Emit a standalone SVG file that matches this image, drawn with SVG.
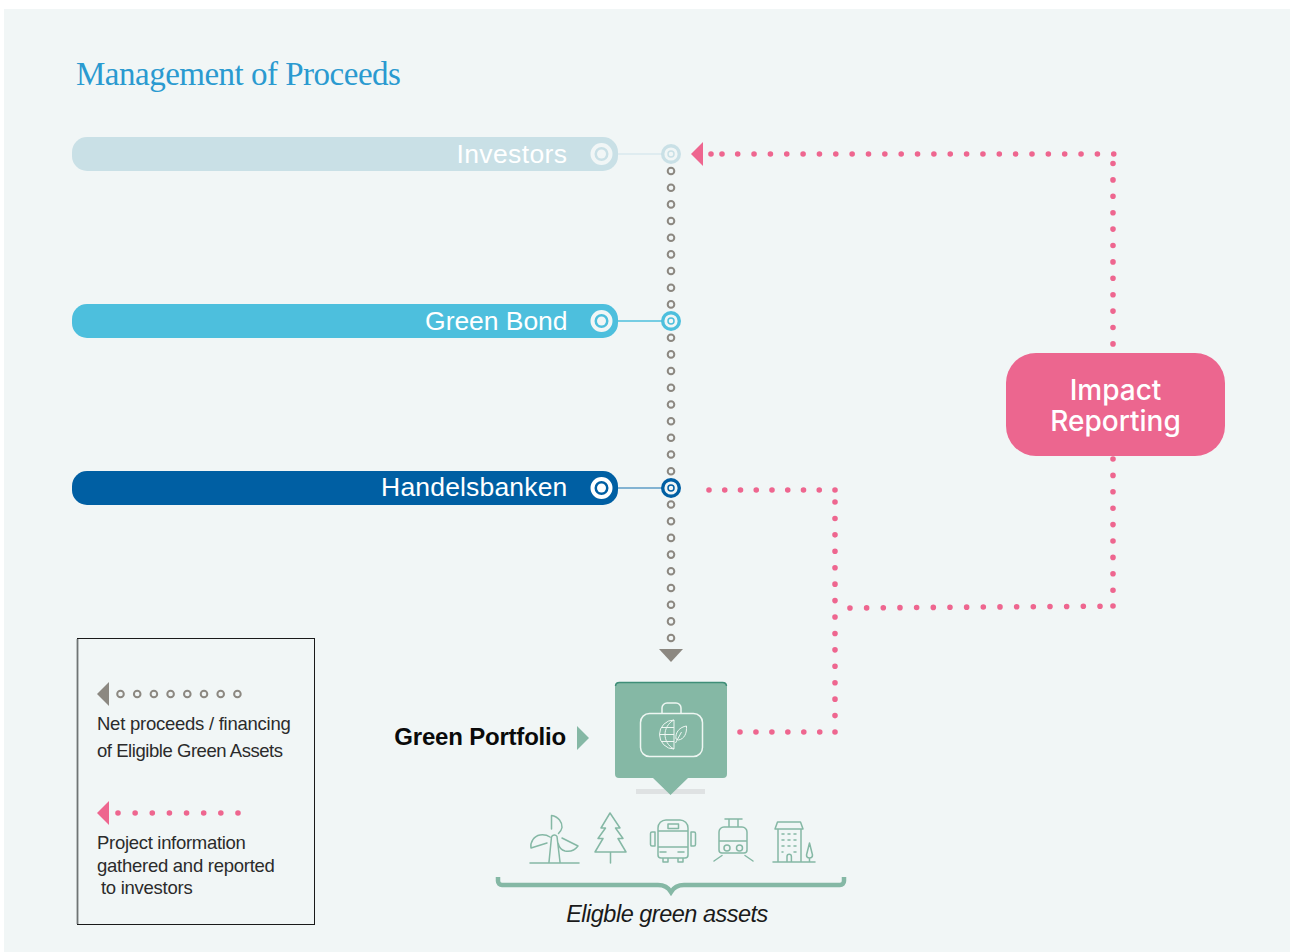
<svg xmlns="http://www.w3.org/2000/svg" width="1290" height="952" viewBox="0 0 1290 952">
<style>
text{font-family:"Liberation Sans",Arial,sans-serif}
.bar{font-size:26.5px;fill:#fff;text-anchor:end}
.leg{font-size:18.5px;fill:#2b2b2b}
.pink{fill:none;stroke:#ee668f;stroke-width:5.6;stroke-linecap:round}
.ring{fill:none;stroke:#8c8881;stroke-width:2}
.ic{fill:none;stroke:#85b8a5;stroke-width:1.500;stroke-linecap:round;stroke-linejoin:round}
.wh{fill:none;stroke:#eef6f2;stroke-width:1.500;stroke-linecap:round;stroke-linejoin:round}
.wh2{fill:none;stroke:#eef6f2;stroke-width:1}
</style>
<defs><circle id="r" r="3.300" class="ring"/></defs>
<rect width="1290" height="952" fill="#fff"/>
<rect x="4" y="9" width="1286" height="943" fill="#f1f6f6"/>
<text id="title" x="76" y="85" font-size="33" fill="#2a9ad0" style="font-family:'Liberation Serif',serif;letter-spacing:-.5px">Management of Proceeds</text>

<g id="connectors">
<g id="spine">
<use href="#r" x="671" y="171"/><use href="#r" x="671" y="187.700"/><use href="#r" x="671" y="204.400"/><use href="#r" x="671" y="221"/><use href="#r" x="671" y="237.700"/><use href="#r" x="671" y="254.400"/><use href="#r" x="671" y="271"/><use href="#r" x="671" y="287.700"/><use href="#r" x="671" y="304.400"/>
<use href="#r" x="671" y="337.800"/><use href="#r" x="671" y="354.400"/><use href="#r" x="671" y="371"/><use href="#r" x="671" y="387.800"/><use href="#r" x="671" y="404.500"/><use href="#r" x="671" y="421.200"/><use href="#r" x="671" y="437.800"/><use href="#r" x="671" y="454.500"/><use href="#r" x="671" y="471.200"/>
<use href="#r" x="671" y="504.500"/><use href="#r" x="671" y="521.200"/><use href="#r" x="671" y="537.900"/><use href="#r" x="671" y="554.600"/><use href="#r" x="671" y="571.300"/><use href="#r" x="671" y="588"/><use href="#r" x="671" y="604.700"/><use href="#r" x="671" y="621.400"/><use href="#r" x="671" y="638"/>
<polygon points="659,649 683,649 671,662" fill="#8c8881"/>
</g>
<g id="pink-lines">
<path class="pink" d="M711 154H722.100" stroke-dasharray="0 11"/>
<path class="pink" d="M737.700 154H1113.800" stroke-dasharray="0 16.350"/>
<polygon points="703,142 703,166 691,154" fill="#ee668f"/>
<path class="pink" d="M1113 163.500V344.100" stroke-dasharray="0 16.400"/>
<path class="pink" d="M1113 459V590.300" stroke-dasharray="0 16.400"/>
<path class="pink" d="M1113 606H1113.100" stroke-dasharray="0 16"/>
<path class="pink" d="M1100 606.200L849.900 608" stroke-dasharray="0 16.670"/>
<path class="pink" d="M709 490H835.100" stroke-dasharray="0 15.750"/>
<path class="pink" d="M835 502V732.100" stroke-dasharray="0 16.430"/>
<path class="pink" d="M740 732H820" stroke-dasharray="0 15.950"/>
</g>
<line x1="618" y1="154" x2="662" y2="154" stroke="#d9e9ee" stroke-width="1.500"/>
<line x1="618" y1="321" x2="662" y2="321" stroke="#4dbfdd" stroke-width="1.500"/>
<line x1="618" y1="488" x2="662" y2="488" stroke="#5e9cc6" stroke-width="1.500"/>
</g>

<g id="investors">
<rect x="72" y="137" width="546" height="34" rx="15" fill="#c9e0e6"/>
<text class="bar" x="567.500" y="163" letter-spacing=".4">Investors</text>
<circle cx="601.500" cy="154" r="9" fill="none" stroke="#f1f6f6" stroke-width="4"/>
<circle cx="601.500" cy="154" r="4.500" fill="#f1f6f6"/>
<circle cx="671" cy="154" r="10" fill="#c9e0e6"/><circle cx="671" cy="154" r="6.600" fill="#f1f6f6"/><circle cx="671" cy="154" r="3" fill="none" stroke="#c9e0e6" stroke-width="1.500"/>
</g>
<g id="green-bond">
<rect x="72" y="304" width="546" height="34" rx="15" fill="#4dbfdd"/>
<text class="bar" x="567.500" y="330" letter-spacing="-.05">Green Bond</text>
<circle cx="601.500" cy="321" r="9" fill="none" stroke="#f1f6f6" stroke-width="4"/>
<circle cx="601.500" cy="321" r="4.500" fill="#f1f6f6"/>
<circle cx="671" cy="321" r="10" fill="#4dbfdd"/><circle cx="671" cy="321" r="6.600" fill="#f1f6f6"/><circle cx="671" cy="321" r="3" fill="none" stroke="#4dbfdd" stroke-width="1.500"/>
</g>
<g id="handelsbanken">
<rect x="72" y="471" width="546" height="34" rx="15" fill="#005fa3"/>
<text class="bar" x="567.500" y="496" letter-spacing=".17">Handelsbanken</text>
<circle cx="601.500" cy="488" r="9" fill="none" stroke="#fff" stroke-width="4"/>
<circle cx="601.500" cy="488" r="4.500" fill="#fff"/>
<circle cx="671" cy="488" r="10" fill="#005fa3"/><circle cx="671" cy="488" r="6.600" fill="#f1f6f6"/><circle cx="671" cy="488" r="3" fill="none" stroke="#005fa3" stroke-width="1.500"/>
</g>

<g id="impact-reporting">
<rect x="1006" y="353" width="219" height="103" rx="30" fill="#ec668f"/>
<text x="1115.500" y="400" font-size="28" font-weight="500" fill="#fff" text-anchor="middle" style="font-family:Inter,'Liberation Sans',sans-serif">Impact</text>
<text x="1115.500" y="431" font-size="28" font-weight="500" fill="#fff" text-anchor="middle" style="font-family:Inter,'Liberation Sans',sans-serif">Reporting</text>
</g>

<g id="green-portfolio">
<text x="566" y="745" font-size="24" font-weight="700" fill="#0a0a0a" text-anchor="end" letter-spacing="-.2">Green Portfolio</text>
<polygon points="577,726 589,738 577,750" fill="#85b8a5"/>
<rect x="636" y="789" width="69" height="5" fill="#dfe2e3"/>
<path d="M619 682H723a4 4 0 0 1 4 4V774a4 4 0 0 1-4 4H688L670.500 795 653 778H619a4 4 0 0 1-4-4V686a4 4 0 0 1 4-4Z" fill="#85b8a5"/>
<path d="M615.500 686a4 4 0 0 1 4-3.500H722.500a4 4 0 0 1 4 3.500" fill="none" stroke="#3f8e78" stroke-width="1.500"/>
<rect x="640.500" y="713.500" width="62" height="43" rx="9" class="wh"/>
<path class="wh" d="M662 713V708a5 5 0 0 1 5-5H676a5 5 0 0 1 5 5V713"/>
<path class="wh2" d="M674 720a14.500 14.500 0 0 0 0 29ZM674 720c-6 3-9 9-9 14.500s3 11.500 9 14.500M661 727.500H674M659.500 734.500H674M661 741.500H674"/>
<path class="wh2" d="M676 739c-1-7 4-12 10.500-13 .5 7-2 13-8 14ZM675.500 743l6-11"/>
</g>

<g id="eligible-assets">
<g id="wind"><path class="ic" d="M530 863H579M549 862L551.500 837a3 3 0 0 1 5.500-.5L560 862M551.500 829V815.500c7 1 11 7 10.500 12-.5 3-2 4.500-3.500 6M550 837c-3-2-6-2.500-10-2-6 1-10 7-9 13l16-5M562 838L578 846c-3 4-8 6-13 5-4-1-6-4-7-8"/></g>
<g id="tree"><path class="ic" d="M610 813L620 828H615.500L623 838.500H618L626 852H595L603 838.500H598L605.500 828H601ZM610.500 852V863"/></g>
<g id="bus"><path class="ic" d="M658 828a8 8 0 0 1 8-8H680a8 8 0 0 1 8 8V855a3 3 0 0 1-3 3H661a3 3 0 0 1-3-3ZM658 831H688M658 847H688M668 824H678.500V828.500H668ZM660 852H666M678 852H684M652 832H655V846H652a1.500 1.500 0 0 1-1.500-1.500V833.500A1.500 1.500 0 0 1 652 832ZM691 832H694A1.500 1.500 0 0 1 695.500 833.500V844.500A1.500 1.500 0 0 1 694 846H691ZM663 858V862H668V858M678 858V862H683V858"/></g>
<g id="tram"><path class="ic" d="M725 819H742M729 819V827M738 819V827M719 832a5 5 0 0 1 5-5H742a5 5 0 0 1 5 5V850a3 3 0 0 1-3 3H722a3 3 0 0 1-3-3ZM719 841H747M714 861L722 855.500M753 861L745 855.500"/><circle class="ic" cx="727" cy="848" r="3"/><circle class="ic" cx="739.500" cy="848" r="3"/></g>
<g id="building"><path class="ic" d="M773 862H815M778 829V862M801 829V862M775 829H803L800.500 822H777.500ZM787 862V856.500a2.200 2.200 0 0 1 4.400 0V862M809.500 843l-3 12a3 3 0 0 0 6 0ZM809.500 858V862"/><path class="ic" stroke-dasharray="2 4" d="M782 834H798M782 840H798M782 846H798M782 852H783M794 852H798"/></g>
<path d="M498 877V881a4 4 0 0 0 4 4H658c6 0 10 2 13 7 3-5 7-7 13-7H840a4 4 0 0 0 4-4V877" fill="none" stroke="#85b8a5" stroke-width="4.500"/>
<text x="667" y="922" font-size="23.500" font-style="italic" fill="#1a1a1a" text-anchor="middle" letter-spacing="-.5">Eligble green assets</text>
</g>

<g id="legend">
<rect x="77.500" y="638.500" width="237" height="286" fill="none" stroke="#1a1a1a" stroke-width="1"/>
<line x1="77.500" y1="639" x2="77.500" y2="924" stroke="#6f7474" stroke-width="1.800"/>
<polygon points="109,682 109,706 97,694" fill="#8c8881"/>
<use href="#r" x="120.500" y="694"/><use href="#r" x="137.200" y="694"/><use href="#r" x="153.900" y="694"/><use href="#r" x="170.600" y="694"/><use href="#r" x="187.300" y="694"/><use href="#r" x="204" y="694"/><use href="#r" x="220.700" y="694"/><use href="#r" x="237.400" y="694"/>
<text class="leg" x="97" y="730" letter-spacing="-.25">Net proceeds / financing</text>
<text class="leg" x="97" y="757" letter-spacing="-.45">of Eligible Green Assets</text>
<polygon points="109,801 109,825 97,813" fill="#ee668f"/>
<path class="pink" d="M118 813H238.100" stroke-dasharray="0 17.140"/>
<text class="leg" x="97" y="849" letter-spacing="-.3">Project information</text>
<text class="leg" x="97" y="872" letter-spacing="-.26">gathered and reported</text>
<text class="leg" x="101" y="894" letter-spacing="-.27">to investors</text>
</g>
</svg>
